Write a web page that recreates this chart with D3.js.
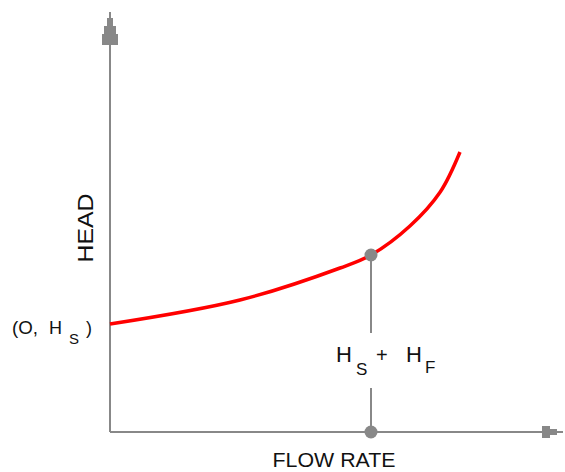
<!DOCTYPE html>
<html>
<head>
<meta charset="utf-8">
<script src="https://cdn.jsdelivr.net/npm/d3@7"></script>
<style>
  html, body { margin: 0; padding: 0; background: #fff; }
  svg { display: block; }
  text { font-family: "Liberation Sans", Arial, sans-serif; fill: #111; }
</style>
</head>
<body>
<svg id="chart" width="565" height="472"></svg>
<script>
// ---- data (arbitrary units) ----
const flow = [0, 29.2, 51.7, 58.65, 67.4, 74.2, 78.65];
const head = [27, 33, 41, 44.25, 51.5, 60, 70];
const operatingFlow = [58.65];
const operatingHead = [44.25];
const axisLabels = ["FLOW RATE", "HEAD"];

const svg = d3.select("#chart");
const grey = "#888888";

const x = d3.scaleLinear().domain([0, 100]).range([110, 555]);
const y = d3.scaleLinear().domain([0, 100]).range([432, 32]);

// axes lines
svg.append("line").attr("x1", x(0)).attr("x2", 545).attr("y1", y(0)).attr("y2", y(0))
  .attr("stroke", grey).attr("stroke-width", 2);
svg.append("line").attr("x1", x(0)).attr("x2", x(0)).attr("y1", y(0)).attr("y2", 40)
  .attr("stroke", grey).attr("stroke-width", 2);

// arrowheads
svg.append("path")
  .attr("d", "M109,12 L111,12 L111,18 L113,18 L113,26 L116,26 L116,34 L118,34 L118,45 L102,45 L102,34 L104,34 L104,26 L107,26 L107,18 L109,18 Z")
  .attr("fill", grey);
svg.append("path")
  .attr("d", "M563,431 L563,433 L557,433 L557,435 L550,435 L550,438 L542,438 L542,426 L550,426 L550,429 L557,429 L557,431 Z")
  .attr("fill", grey);

// connector line (broken around label)
const ox = x(operatingFlow[0]);
svg.append("line").attr("x1", ox).attr("x2", ox).attr("y1", y(operatingHead[0])).attr("y2", 333)
  .attr("stroke", grey).attr("stroke-width", 2);
svg.append("line").attr("x1", ox).attr("x2", ox).attr("y1", 388).attr("y2", y(0))
  .attr("stroke", grey).attr("stroke-width", 2);

// curve
const line = d3.line().x((d, i) => x(flow[i])).y(d => y(d)).curve(d3.curveCatmullRom.alpha(0.5));
svg.append("path").datum(head).attr("d", line)
  .attr("fill", "none").attr("stroke", "#ff0000").attr("stroke-width", 3.5);

// dots
svg.append("circle").attr("cx", ox).attr("cy", y(operatingHead[0])).attr("r", 6.5).attr("fill", grey);
svg.append("circle").attr("cx", ox).attr("cy", y(0)).attr("r", 6.5).attr("fill", grey);

// axis labels
svg.append("text").attr("x", 334).attr("y", 467).attr("text-anchor", "middle")
  .attr("font-size", 20).attr("textLength", 123).attr("lengthAdjust", "spacingAndGlyphs")
  .text(axisLabels[0]);
svg.append("text").attr("transform", "translate(93,228) rotate(-90)").attr("text-anchor", "middle")
  .attr("font-size", 22).attr("textLength", 69).attr("lengthAdjust", "spacingAndGlyphs")
  .text(axisLabels[1]);

// (O, H_S)
svg.append("text").attr("x", 12).attr("y", 334).attr("font-size", 18)
  .attr("textLength", 26).attr("lengthAdjust", "spacingAndGlyphs").text("(O,");
svg.append("text").attr("x", 49).attr("y", 334).attr("font-size", 18).text("H");
svg.append("text").attr("x", 69).attr("y", 344).attr("font-size", 15).text("S");
svg.append("text").attr("x", 86).attr("y", 334).attr("font-size", 18).text(")");

// H_S + H_F
svg.append("text").attr("x", 336).attr("y", 362).attr("font-size", 22).text("H");
svg.append("text").attr("x", 356).attr("y", 375).attr("font-size", 17).text("S");
svg.append("text").attr("x", 376).attr("y", 362).attr("font-size", 20).text("+");
svg.append("text").attr("x", 406).attr("y", 362).attr("font-size", 22).text("H");
svg.append("text").attr("x", 425).attr("y", 373).attr("font-size", 17).text("F");
</script>
</body>
</html>
